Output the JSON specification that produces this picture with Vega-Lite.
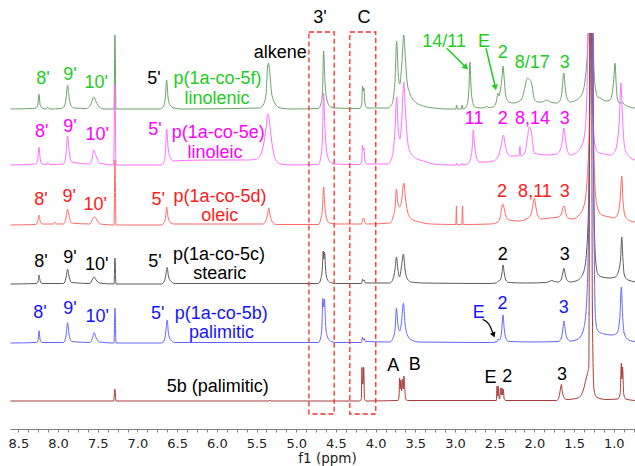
{
  "$schema": "https://vega.github.io/schema/vega-lite/v6.json",
  "width": 625,
  "height": 396,
  "autosize": {"type": "none"},
  "padding": {"left": 10, "top": 33, "right": 0, "bottom": 37},
  "background": "white",
  "config": {"view": {"stroke": null}},
  "datasets": {
    "f": [
      {"x":8.6,"y":320},{"x":8.32,"y":320.5},{"x":8.28,"y":321},{"x":8.255,"y":324},{"x":8.24,"y":335},{"x":8.225,"y":324},{"x":8.2,"y":321},{"x":8.15,"y":320},{"x":8.13,"y":322},{"x":8.11,"y":320},
      {"x":7.96,"y":320.5},{"x":7.92,"y":323},{"x":7.9,"y":330},{"x":7.88,"y":344},{"x":7.86,"y":331},{"x":7.84,"y":324},{"x":7.8,"y":321},{"x":7.64,"y":320.5},{"x":7.59,"y":324},{"x":7.55,"y":332},{"x":7.52,"y":327},{"x":7.48,"y":322},{"x":7.42,"y":320},
      {"x":7.295,"y":320},{"x":7.283,"y":394},{"x":7.27,"y":320},{"x":6.72,"y":320},{"x":6.67,"y":323},{"x":6.65,"y":330},{"x":6.632,"y":349},{"x":6.615,"y":332},{"x":6.59,"y":324},{"x":6.54,"y":321},{"x":6.45,"y":320},
      {"x":5.46,"y":321},{"x":5.41,"y":325},{"x":5.38,"y":335},{"x":5.36,"y":363},{"x":5.35,"y":366},{"x":5.335,"y":358},{"x":5.31,"y":336},{"x":5.27,"y":326},{"x":5.2,"y":321},{"x":5.05,"y":320},
      {"x":4.72,"y":320.5},{"x":4.69,"y":325},{"x":4.67,"y":335},{"x":4.655,"y":378},{"x":4.64,"y":350},{"x":4.62,"y":332},{"x":4.58,"y":323},{"x":4.52,"y":321},
      {"x":4.2,"y":320.5},{"x":4.175,"y":325},{"x":4.165,"y":343},{"x":4.155,"y":338},{"x":4.147,"y":341},{"x":4.135,"y":326},{"x":4.11,"y":321},
      {"x":3.85,"y":321},{"x":3.8,"y":324},{"x":3.775,"y":332},{"x":3.755,"y":350},{"x":3.735,"y":388},{"x":3.715,"y":355},{"x":3.695,"y":345},{"x":3.67,"y":365},{"x":3.645,"y":394},{"x":3.625,"y":370},{"x":3.6,"y":345},{"x":3.57,"y":336},{"x":3.5,"y":327},{"x":3.4,"y":323},{"x":3.27,"y":321},{"x":3.1,"y":320},
      {"x":2.99,"y":320},{"x":2.98,"y":324},{"x":2.97,"y":320},{"x":2.92,"y":320},{"x":2.91,"y":324},{"x":2.9,"y":320},{"x":2.87,"y":321},{"x":2.84,"y":327},{"x":2.825,"y":340},{"x":2.812,"y":367},{"x":2.8,"y":345},{"x":2.785,"y":330},{"x":2.75,"y":322},{"x":2.68,"y":321},
      {"x":2.62,"y":321.5},{"x":2.6,"y":323},{"x":2.58,"y":321.5},{"x":2.52,"y":322},{"x":2.48,"y":327},{"x":2.46,"y":336},{"x":2.445,"y":333},{"x":2.43,"y":338},{"x":2.41,"y":350},{"x":2.395,"y":363},{"x":2.38,"y":350},{"x":2.36,"y":333},{"x":2.32,"y":327},{"x":2.26,"y":326},
      {"x":2.21,"y":327},{"x":2.16,"y":330},{"x":2.13,"y":338},{"x":2.1,"y":349},{"x":2.085,"y":351},{"x":2.06,"y":349},{"x":2.04,"y":347},{"x":2.02,"y":338},{"x":2.0,"y":330},{"x":1.96,"y":327},{"x":1.9,"y":327},{"x":1.85,"y":329},{"x":1.8,"y":327},{"x":1.72,"y":326},
      {"x":1.68,"y":328},{"x":1.655,"y":336},{"x":1.63,"y":356},{"x":1.61,"y":340},{"x":1.59,"y":331},{"x":1.55,"y":327},{"x":1.47,"y":329},{"x":1.4,"y":335},{"x":1.36,"y":350},{"x":1.33,"y":380},{"x":1.3,"y":450},{"x":1.275,"y":450},{"x":1.255,"y":370},{"x":1.23,"y":340},{"x":1.2,"y":332},{"x":1.17,"y":331},{"x":1.1,"y":328},{"x":1.05,"y":329},
      {"x":1.02,"y":336},{"x":1.0,"y":350},{"x":0.985,"y":366},{"x":0.97,"y":345},{"x":0.955,"y":330},{"x":0.93,"y":326},{"x":0.905,"y":326},{"x":0.89,"y":327},{"x":0.875,"y":325},{"x":0.83,"y":323},{"x":0.78,"y":321.5},{"x":0.73,"y":321}
    ],
    "e": [
      {"x":8.6,"y":264},{"x":8.28,"y":265},{"x":8.255,"y":270},{"x":8.24,"y":282},{"x":8.225,"y":270},{"x":8.2,"y":265},{"x":8.14,"y":264.5},{"x":8.13,"y":266.5},{"x":8.11,"y":264.5},
      {"x":7.93,"y":265},{"x":7.9,"y":275},{"x":7.88,"y":293},{"x":7.86,"y":278},{"x":7.83,"y":267},{"x":7.6,"y":265},{"x":7.57,"y":271},{"x":7.55,"y":279},{"x":7.52,"y":273},{"x":7.48,"y":266},
      {"x":7.3,"y":264},{"x":7.283,"y":344},{"x":7.27,"y":264},{"x":6.7,"y":264},{"x":6.66,"y":268},{"x":6.645,"y":280},{"x":6.632,"y":300},{"x":6.615,"y":282},{"x":6.59,"y":272},{"x":6.55,"y":268},{"x":6.45,"y":268.5},{"x":6.0,"y":269},{"x":5.6,"y":269},
      {"x":5.5,"y":270},{"x":5.45,"y":274},{"x":5.41,"y":285},{"x":5.38,"y":300},{"x":5.36,"y":315},{"x":5.34,"y":310},{"x":5.32,"y":295},{"x":5.29,"y":278},{"x":5.25,"y":268},{"x":5.2,"y":265},{"x":5.05,"y":264},
      {"x":4.72,"y":264.5},{"x":4.69,"y":272},{"x":4.67,"y":290},{"x":4.655,"y":336},{"x":4.64,"y":305},{"x":4.62,"y":280},{"x":4.58,"y":268},{"x":4.52,"y":265},
      {"x":4.2,"y":264.5},{"x":4.175,"y":268},{"x":4.165,"y":284},{"x":4.155,"y":279},{"x":4.147,"y":281},{"x":4.135,"y":268},{"x":4.11,"y":265},
      {"x":3.85,"y":265},{"x":3.8,"y":270},{"x":3.775,"y":280},{"x":3.755,"y":300},{"x":3.735,"y":332},{"x":3.715,"y":300},{"x":3.695,"y":290},{"x":3.67,"y":310},{"x":3.645,"y":347},{"x":3.625,"y":320},{"x":3.6,"y":290},{"x":3.57,"y":278},{"x":3.5,"y":271},{"x":3.4,"y":268},{"x":3.27,"y":265},{"x":3.1,"y":264},
      {"x":2.99,"y":264},{"x":2.98,"y":266},{"x":2.97,"y":264},{"x":2.92,"y":264},{"x":2.91,"y":266},{"x":2.9,"y":264},{"x":2.84,"y":265},{"x":2.8,"y":272},{"x":2.78,"y":285},{"x":2.77,"y":299},{"x":2.755,"y":285},{"x":2.73,"y":272},{"x":2.7,"y":267},{"x":2.6,"y":267},
      {"x":2.52,"y":268},{"x":2.46,"y":272},{"x":2.42,"y":283},{"x":2.39,"y":294},{"x":2.37,"y":285},{"x":2.34,"y":276},{"x":2.3,"y":273},{"x":2.24,"y":273},{"x":2.19,"y":274},{"x":2.182,"y":283},{"x":2.175,"y":273},
      {"x":2.12,"y":276},{"x":2.09,"y":290},{"x":2.065,"y":302},{"x":2.04,"y":298},{"x":2.02,"y":285},{"x":2.0,"y":276},{"x":1.96,"y":275},{"x":1.85,"y":274},{"x":1.72,"y":275},
      {"x":1.67,"y":280},{"x":1.645,"y":290},{"x":1.63,"y":301},{"x":1.61,"y":290},{"x":1.59,"y":280},{"x":1.55,"y":274},{"x":1.48,"y":276},{"x":1.4,"y":284},{"x":1.36,"y":300},{"x":1.335,"y":350},{"x":1.315,"y":450},{"x":1.29,"y":450},{"x":1.27,"y":330},{"x":1.24,"y":285},{"x":1.2,"y":277},{"x":1.12,"y":275},{"x":1.05,"y":274},
      {"x":1.0,"y":276},{"x":0.96,"y":285},{"x":0.93,"y":310},{"x":0.91,"y":346},{"x":0.895,"y":320},{"x":0.875,"y":290},{"x":0.85,"y":278},{"x":0.8,"y":272},{"x":0.73,"y":269}
    ],
    "d": [
      {"x":8.6,"y":204},{"x":8.28,"y":204.5},{"x":8.255,"y":208},{"x":8.24,"y":214},{"x":8.225,"y":208},{"x":8.2,"y":205},{"x":8.06,"y":205},{"x":8.04,"y":207},{"x":8.02,"y":205},
      {"x":7.93,"y":205},{"x":7.9,"y":211},{"x":7.88,"y":220},{"x":7.86,"y":213},{"x":7.83,"y":206},{"x":7.6,"y":205},{"x":7.57,"y":209},{"x":7.54,"y":212},{"x":7.51,"y":209},{"x":7.47,"y":205},
      {"x":7.295,"y":204},{"x":7.283,"y":269},{"x":7.27,"y":204},{"x":6.7,"y":204},{"x":6.66,"y":207},{"x":6.645,"y":212},{"x":6.632,"y":222},{"x":6.615,"y":212},{"x":6.59,"y":207},{"x":6.54,"y":205},
      {"x":5.42,"y":205},{"x":5.38,"y":209},{"x":5.36,"y":215},{"x":5.345,"y":221},{"x":5.33,"y":214},{"x":5.3,"y":207},{"x":5.25,"y":204.5},
      {"x":4.72,"y":204.5},{"x":4.69,"y":210},{"x":4.67,"y":220},{"x":4.655,"y":242},{"x":4.64,"y":225},{"x":4.62,"y":211},{"x":4.58,"y":206},{"x":4.5,"y":205},
      {"x":4.18,"y":205},{"x":4.165,"y":209},{"x":4.155,"y":211},{"x":4.145,"y":210},{"x":4.13,"y":206},{"x":4.11,"y":205},
      {"x":3.82,"y":206},{"x":3.78,"y":212},{"x":3.755,"y":222},{"x":3.738,"y":240},{"x":3.72,"y":226},{"x":3.695,"y":222},{"x":3.67,"y":230},{"x":3.645,"y":246},{"x":3.625,"y":232},{"x":3.6,"y":218},{"x":3.55,"y":210},{"x":3.45,"y":207},{"x":3.3,"y":205},
      {"x":2.99,"y":204.5},{"x":2.982,"y":223},{"x":2.975,"y":204.5},{"x":2.915,"y":204.5},{"x":2.905,"y":223},{"x":2.897,"y":204.5},
      {"x":2.55,"y":205},{"x":2.46,"y":207},{"x":2.43,"y":212},{"x":2.4,"y":225},{"x":2.385,"y":222},{"x":2.36,"y":213},{"x":2.32,"y":209},{"x":2.2,"y":208},
      {"x":2.1,"y":210},{"x":2.04,"y":215},{"x":2.015,"y":226},{"x":2.0,"y":231},{"x":1.985,"y":224},{"x":1.96,"y":214},{"x":1.92,"y":210},{"x":1.8,"y":211},{"x":1.7,"y":212},
      {"x":1.66,"y":215},{"x":1.64,"y":222},{"x":1.625,"y":223},{"x":1.605,"y":216},{"x":1.58,"y":211},{"x":1.52,"y":210},{"x":1.45,"y":213},{"x":1.38,"y":222},{"x":1.34,"y":245},{"x":1.31,"y":300},{"x":1.29,"y":450},{"x":1.27,"y":450},{"x":1.255,"y":300},{"x":1.23,"y":235},{"x":1.2,"y":220},{"x":1.15,"y":214},{"x":1.05,"y":212},
      {"x":1.0,"y":211},{"x":0.95,"y":215},{"x":0.92,"y":230},{"x":0.9,"y":253},{"x":0.885,"y":230},{"x":0.865,"y":215},{"x":0.83,"y":210},{"x":0.77,"y":207.5},{"x":0.73,"y":207}
    ],
    "c": [
      {"x":8.6,"y":145},{"x":8.27,"y":145.5},{"x":8.25,"y":148},{"x":8.24,"y":154},{"x":8.225,"y":148},{"x":8.2,"y":145.5},
      {"x":7.93,"y":145.5},{"x":7.9,"y":151},{"x":7.88,"y":159.7},{"x":7.86,"y":152},{"x":7.83,"y":146.5},{"x":7.6,"y":145.5},{"x":7.57,"y":149},{"x":7.545,"y":152},{"x":7.52,"y":149},{"x":7.48,"y":146},
      {"x":7.295,"y":145},{"x":7.283,"y":171},{"x":7.27,"y":145},{"x":6.7,"y":145},{"x":6.66,"y":148},{"x":6.645,"y":153},{"x":6.625,"y":161.7},{"x":6.61,"y":153},{"x":6.58,"y":148},{"x":6.53,"y":145.5},
      {"x":4.72,"y":145.5},{"x":4.69,"y":150},{"x":4.67,"y":162},{"x":4.66,"y":178},{"x":4.652,"y":170},{"x":4.643,"y":177},{"x":4.63,"y":160},{"x":4.61,"y":150},{"x":4.57,"y":146.5},{"x":4.5,"y":145.5},
      {"x":4.18,"y":145.5},{"x":4.163,"y":149.7},{"x":4.155,"y":148},{"x":4.145,"y":149},{"x":4.13,"y":146},
      {"x":3.82,"y":146},{"x":3.78,"y":150},{"x":3.755,"y":160},{"x":3.738,"y":172},{"x":3.72,"y":160},{"x":3.7,"y":152},{"x":3.675,"y":162},{"x":3.65,"y":175},{"x":3.63,"y":160},{"x":3.6,"y":150},{"x":3.55,"y":147},{"x":3.4,"y":146},
      {"x":2.6,"y":145.5},{"x":2.48,"y":146},{"x":2.455,"y":148},{"x":2.43,"y":149},{"x":2.41,"y":155},{"x":2.395,"y":164},{"x":2.38,"y":156},{"x":2.36,"y":149},{"x":2.32,"y":146.5},{"x":2.1,"y":146},
      {"x":1.85,"y":146.5},{"x":1.8,"y":148},{"x":1.78,"y":148.5},{"x":1.75,"y":147.5},{"x":1.7,"y":147},{"x":1.66,"y":150},{"x":1.645,"y":155},{"x":1.628,"y":160.7},{"x":1.61,"y":154},{"x":1.59,"y":149},{"x":1.55,"y":147},
      {"x":1.45,"y":149},{"x":1.38,"y":157},{"x":1.34,"y":180},{"x":1.31,"y":260},{"x":1.29,"y":450},{"x":1.27,"y":450},{"x":1.255,"y":260},{"x":1.23,"y":170},{"x":1.2,"y":155},{"x":1.15,"y":152},{"x":1.05,"y":151},
      {"x":0.98,"y":152},{"x":0.94,"y":158},{"x":0.915,"y":170},{"x":0.9,"y":192},{"x":0.885,"y":170},{"x":0.87,"y":155},{"x":0.84,"y":150},{"x":0.78,"y":148},{"x":0.73,"y":147}
    ],
    "b": [
      {"x":8.6,"y":86},{"x":8.27,"y":86.5},{"x":8.25,"y":89},{"x":8.24,"y":98.3},{"x":8.225,"y":89},{"x":8.2,"y":86.5},
      {"x":7.93,"y":86.5},{"x":7.9,"y":93},{"x":7.88,"y":106.3},{"x":7.86,"y":94},{"x":7.83,"y":87.5},{"x":7.6,"y":86.5},{"x":7.57,"y":90},{"x":7.545,"y":96.3},{"x":7.52,"y":91},{"x":7.48,"y":87},
      {"x":7.295,"y":86},{"x":7.283,"y":121},{"x":7.27,"y":86},{"x":6.7,"y":86},{"x":6.66,"y":89},{"x":6.645,"y":96},{"x":6.625,"y":109},{"x":6.61,"y":96},{"x":6.58,"y":89},{"x":6.53,"y":86.5},
      {"x":4.72,"y":86.5},{"x":4.69,"y":92},{"x":4.675,"y":105},{"x":4.665,"y":130.7},{"x":4.655,"y":122},{"x":4.645,"y":130},{"x":4.63,"y":105},{"x":4.61,"y":93},{"x":4.57,"y":88},{"x":4.5,"y":86.5},
      {"x":4.18,"y":86.5},{"x":4.165,"y":91.7},{"x":4.155,"y":89},{"x":4.147,"y":90.5},{"x":4.13,"y":87.5},
      {"x":3.82,"y":87},{"x":3.78,"y":91},{"x":3.755,"y":100},{"x":3.738,"y":120.7},{"x":3.72,"y":105},{"x":3.695,"y":98},{"x":3.675,"y":106},{"x":3.65,"y":125.7},{"x":3.63,"y":106},{"x":3.6,"y":94},{"x":3.55,"y":89},{"x":3.45,"y":87},
      {"x":2.55,"y":86.5},{"x":2.47,"y":87.5},{"x":2.455,"y":90},{"x":2.44,"y":89},{"x":2.415,"y":96},{"x":2.395,"y":114},{"x":2.38,"y":100},{"x":2.36,"y":91},{"x":2.32,"y":87.5},{"x":2.0,"y":87},
      {"x":1.7,"y":87.5},{"x":1.66,"y":91},{"x":1.645,"y":98},{"x":1.628,"y":108},{"x":1.61,"y":98},{"x":1.59,"y":91},{"x":1.55,"y":88},
      {"x":1.45,"y":90},{"x":1.38,"y":100},{"x":1.34,"y":130},{"x":1.31,"y":250},{"x":1.29,"y":450},{"x":1.27,"y":450},{"x":1.255,"y":250},{"x":1.23,"y":110},{"x":1.2,"y":98},{"x":1.12,"y":95},{"x":1.02,"y":94},
      {"x":0.96,"y":96},{"x":0.925,"y":110},{"x":0.905,"y":142},{"x":0.89,"y":115},{"x":0.87,"y":96},{"x":0.84,"y":91},{"x":0.78,"y":88},{"x":0.73,"y":87.5}
    ],
    "m": [
      {"x":8.6,"y":28},{"x":7.3,"y":28},{"x":7.283,"y":40},{"x":7.27,"y":28},{"x":5.34,"y":28},{"x":5.33,"y":29},{"x":5.32,"y":28},
      {"x":4.2,"y":28},{"x":4.18,"y":30},{"x":4.172,"y":61.7},{"x":4.165,"y":45},{"x":4.158,"y":45},{"x":4.15,"y":61.7},{"x":4.14,"y":30},{"x":4.12,"y":28},
      {"x":3.72,"y":28.5},{"x":3.705,"y":33},{"x":3.698,"y":51},{"x":3.69,"y":40},{"x":3.682,"y":49},{"x":3.672,"y":38},{"x":3.662,"y":50},{"x":3.652,"y":40},{"x":3.643,"y":53},{"x":3.633,"y":40},{"x":3.62,"y":30},{"x":3.6,"y":28.5},
      {"x":2.48,"y":28.5},{"x":2.47,"y":43},{"x":2.462,"y":33},{"x":2.455,"y":43},{"x":2.447,"y":33},{"x":2.44,"y":30},{"x":2.425,"y":41},{"x":2.418,"y":34},{"x":2.41,"y":41},{"x":2.4,"y":34},{"x":2.393,"y":40},{"x":2.38,"y":30},{"x":2.36,"y":28.5},
      {"x":1.72,"y":28.5},{"x":1.69,"y":32},{"x":1.67,"y":41},{"x":1.66,"y":44.7},{"x":1.65,"y":38},{"x":1.63,"y":32},{"x":1.6,"y":29.5},
      {"x":1.45,"y":31},{"x":1.38,"y":40},{"x":1.35,"y":50},{"x":1.33,"y":56},{"x":1.315,"y":62},{"x":1.298,"y":450},{"x":1.283,"y":450},{"x":1.27,"y":120},{"x":1.25,"y":40},{"x":1.22,"y":32},{"x":1.1,"y":29.5},
      {"x":0.95,"y":30},{"x":0.92,"y":35},{"x":0.905,"y":65.7},{"x":0.898,"y":50},{"x":0.89,"y":62},{"x":0.875,"y":35},{"x":0.85,"y":30},{"x":0.73,"y":28.5}
    ],
    "boxes": [
      {"x":4.84,"x2":4.522,"y":397,"y2":15},
      {"x":4.325,"x2":3.998,"y":397,"y2":15}
    ],
    "tf": [
      {"x":8.189,"y":349.7,"t":"8'"},{"x":7.849,"y":354,"t":"9'"},{"x":7.518,"y":345.7,"t":"10'"},{"x":5.992,"y":349.7,"t":"p(1a-co-5f)"},{"x":5.998,"y":329.7,"t":"linolenic"},
      {"x":3.137,"y":387.3,"t":"14/11"},{"x":2.635,"y":387.3,"t":"E"},{"x":2.398,"y":375.7,"t":"2"},{"x":2.028,"y":366.3,"t":"8/17"},{"x":1.619,"y":366.3,"t":"3"}
    ],
    "te": [
      {"x":8.206,"y":297.3,"t":"8'"},{"x":7.849,"y":302.3,"t":"9'"},{"x":7.507,"y":294,"t":"10'"},{"x":6.779,"y":299,"t":"5'"},{"x":5.981,"y":295.7,"t":"p(1a-co-5e)"},{"x":6.023,"y":275.7,"t":"linoleic"},
      {"x":2.759,"y":309.7,"t":"11"},{"x":2.398,"y":309.7,"t":"2"},{"x":2.024,"y":309.7,"t":"8,14"},{"x":1.619,"y":309.7,"t":"3"}
    ],
    "td": [
      {"x":8.214,"y":229,"t":"8'"},{"x":7.859,"y":232.3,"t":"9'"},{"x":7.531,"y":224,"t":"10'"},{"x":6.737,"y":229,"t":"5'"},{"x":5.96,"y":231.7,"t":"p(1a-co-5d)"},{"x":5.964,"y":213,"t":"oleic"},
      {"x":2.409,"y":237.3,"t":"2"},{"x":1.993,"y":237.3,"t":"8,11"},{"x":1.619,"y":237.3,"t":"3"}
    ],
    "tc": [
      {"x":8.214,"y":167.3,"t":"8'"},{"x":7.849,"y":170.7,"t":"9'"},{"x":7.513,"y":164,"t":"10'"},{"x":6.779,"y":167.3,"t":"5'"},{"x":5.973,"y":174,"t":"p(1a-co-5c)"},{"x":5.964,"y":155,"t":"stearic"},
      {"x":2.398,"y":174,"t":"2"},{"x":1.619,"y":174,"t":"3"},
      {"x":6.791,"y":349.7,"t":"5'"},{"x":5.201,"y":375.7,"t":"alkene"},
      {"x":5.988,"y":42.3,"t":"5b (palimitic)"},{"x":3.778,"y":63,"t":"A"},{"x":3.508,"y":64,"t":"B"},{"x":2.553,"y":50.7,"t":"E"},{"x":2.343,"y":51.7,"t":"2"},{"x":1.653,"y":54,"t":"3"},
      {"x":4.7,"y":411.5,"t":"3'"},{"x":4.147,"y":411.5,"t":"C"}
    ],
    "tb": [
      {"x":8.227,"y":115.7,"t":"8'"},{"x":7.849,"y":119.7,"t":"9'"},{"x":7.507,"y":111.7,"t":"10'"},{"x":6.744,"y":114.7,"t":"5'"},{"x":5.944,"y":114.7,"t":"p(1a-co-5b)"},{"x":5.94,"y":96.3,"t":"palimitic"},
      {"x":2.702,"y":115.7,"t":"E"},{"x":2.402,"y":124.7,"t":"2"},{"x":1.63,"y":121.3,"t":"3"}
    ],
    "arrows": [
      {"a":"g1","o":1,"x":3.105,"y":380.7},{"a":"g1","o":2,"x":2.865,"y":362},
      {"a":"g2","o":1,"x":2.61,"y":380.7},{"a":"g2","o":2,"x":2.492,"y":342},
      {"a":"k","o":1,"x":2.652,"y":109.7},{"a":"k","o":2,"x":2.575,"y":105},{"a":"k","o":3,"x":2.515,"y":94.5}
    ],
    "heads": [
      {"a":"g1","x":2.862,"y":361.5},
      {"a":"g2","x":2.492,"y":341.5},
      {"a":"k","x":2.514,"y":94}
    ]
  },
  "encoding": {
    "x": {
      "field": "x", "type": "quantitative",
      "scale": {"domain": [0.733, 8.605], "reverse": true, "nice": false, "zero": false},
      "axis": {
        "title": "f1 (ppm)",
        "values": [8.5,8.375,8.25,8.125,8,7.875,7.75,7.625,7.5,7.375,7.25,7.125,7,6.875,6.75,6.625,6.5,6.375,6.25,6.125,6,5.875,5.75,5.625,5.5,5.375,5.25,5.125,5,4.875,4.75,4.625,4.5,4.375,4.25,4.125,4,3.875,3.75,3.625,3.5,3.375,3.25,3.125,3,2.875,2.75,2.625,2.5,2.375,2.25,2.125,2,1.875,1.75,1.625,1.5,1.375,1.25,1.125,1,0.875,0.75],
        "labelExpr": "abs(datum.value*2 - round(datum.value*2)) < 0.001 ? format(datum.value, '.1f') : ''",
        "grid": false,
        "domainColor": "#808080",
        "tickColor": "#808080",
        "tickSize": 3,
        "labelFont": "DejaVu Sans",
        "labelFontSize": 13,
        "labelColor": "#222222",
        "labelPadding": 5,
        "labelFlush": false,
        "labelOverlap": false,
        "titleFont": "DejaVu Sans",
        "titleFontSize": 13.5,
        "titleFontWeight": "normal",
        "titleColor": "#222222",
        "titlePadding": 1,
        "titleX": 317
      }
    },
    "y": {
      "field": "y", "type": "quantitative",
      "scale": {"domain": [0, 396], "nice": false, "zero": false},
      "axis": null
    }
  },
  "layer": [
    {"data": {"name": "f"}, "mark": {"type": "line", "color": "#6aa26a", "strokeWidth": 1, "interpolate": "monotone", "clip": true}},
    {"data": {"name": "e"}, "mark": {"type": "line", "color": "#ff6eff", "strokeWidth": 1, "interpolate": "monotone", "clip": true}},
    {"data": {"name": "d"}, "mark": {"type": "line", "color": "#ff6868", "strokeWidth": 1, "interpolate": "monotone", "clip": true}},
    {"data": {"name": "c"}, "mark": {"type": "line", "color": "#5a5a5a", "strokeWidth": 1, "interpolate": "monotone", "clip": true}},
    {"data": {"name": "b"}, "mark": {"type": "line", "color": "#6464ff", "strokeWidth": 1, "interpolate": "monotone", "clip": true}},
    {"data": {"name": "m"}, "mark": {"type": "line", "color": "#a83a3a", "strokeWidth": 1, "interpolate": "monotone", "clip": true}},
    {"data": {"name": "boxes"}, "mark": {"type": "rect", "filled": false, "stroke": "#ff2a2a", "strokeWidth": 1.3, "strokeDash": [5, 3]},
     "encoding": {"x2": {"field": "x2"}, "y2": {"field": "y2"}}},
    {"data": {"name": "tf"}, "mark": {"type": "text", "font": "Liberation Sans", "fontSize": 18, "color": "#22cc22", "align": "center", "baseline": "middle"}, "encoding": {"text": {"field": "t"}}},
    {"data": {"name": "te"}, "mark": {"type": "text", "font": "Liberation Sans", "fontSize": 18, "color": "#ff00ff", "align": "center", "baseline": "middle"}, "encoding": {"text": {"field": "t"}}},
    {"data": {"name": "td"}, "mark": {"type": "text", "font": "Liberation Sans", "fontSize": 18, "color": "#ff1a1a", "align": "center", "baseline": "middle"}, "encoding": {"text": {"field": "t"}}},
    {"data": {"name": "tc"}, "mark": {"type": "text", "font": "Liberation Sans", "fontSize": 18, "color": "#000000", "align": "center", "baseline": "middle"}, "encoding": {"text": {"field": "t"}}},
    {"data": {"name": "tb"}, "mark": {"type": "text", "font": "Liberation Sans", "fontSize": 18, "color": "#1414ff", "align": "center", "baseline": "middle"}, "encoding": {"text": {"field": "t"}}},
    {"data": {"name": "arrows"}, "transform": [{"filter": "datum.a != 'k'"}], "mark": {"type": "line", "color": "#22cc22", "strokeWidth": 1.5},
     "encoding": {"detail": {"field": "a"}, "order": {"field": "o"}}},
    {"data": {"name": "arrows"}, "transform": [{"filter": "datum.a == 'k'"}], "mark": {"type": "line", "color": "#000000", "strokeWidth": 1.3, "interpolate": "monotone"},
     "encoding": {"order": {"field": "o"}}},
    {"data": {"name": "heads"}, "transform": [{"filter": "datum.a == 'g1'"}], "mark": {"type": "point", "shape": "triangle-up", "filled": true, "color": "#22cc22", "size": 45, "angle": 135, "opacity": 1}},
    {"data": {"name": "heads"}, "transform": [{"filter": "datum.a == 'g2'"}], "mark": {"type": "point", "shape": "triangle-up", "filled": true, "color": "#22cc22", "size": 45, "angle": 167, "opacity": 1}},
    {"data": {"name": "heads"}, "transform": [{"filter": "datum.a == 'k'"}], "mark": {"type": "point", "shape": "triangle-up", "filled": true, "color": "#000000", "size": 35, "angle": 158, "opacity": 1}}
  ]
}
